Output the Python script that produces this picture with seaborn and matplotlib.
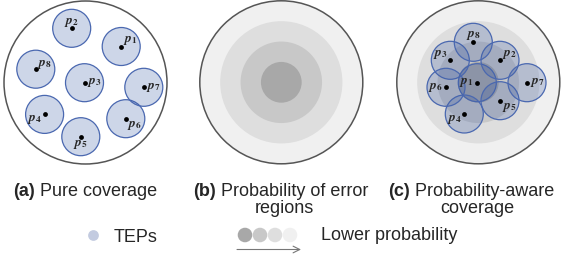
import matplotlib
matplotlib.use("Agg")
import matplotlib.pyplot as plt
from matplotlib.patches import Circle
import seaborn as sns
import pandas as pd

sns.set_theme(style="white")
plt.rcParams['font.family'] = ['Liberation Sans', 'DejaVu Sans']
plt.rcParams['mathtext.fontset'] = 'stix'

# ---- data ----
tep_names = ["1", "2", "3", "4", "5", "6", "7", "8"]
# TEP positions relative to the error-region centre (panel a: pure coverage)
pure_dx = [35.7, -13.8, -1.0, -40.9, -4.7, 40.3, 58.3, -49.7]
pure_dy = [-36.0, -54.2, 0.2, 31.9, 54.2, 36.2, 4.8, -13.3]
# panel c: probability-aware coverage
aware_dx = [-1.0, 21.7, -28.0, -14.0, 21.7, -32.3, 48.7, -5.0]
aware_dy = [0.4, -22.0, -22.0, 31.7, 18.4, 5.0, 0.4, -40.0]
# label offsets relative to the TEP point
pure_lab_dx = [9, 0, 10, -10, 0, 9, 10, 9]
pure_lab_dy = [-6, -6, 0, 5, 8, 7, 0, -5]
aware_lab_dx = [-11, 9, -10, -10, 9, -11, 10, 0]
aware_lab_dy = [0, -6, -6, 5, 7, 0, 0, -7]
ring_levels = [4, 3, 2, 1]          # outer -> inner
ring_colors = ["#f0f0f0", "#dedede", "#c8c8c8", "#a8a8a8"]
captions_bold = ["(a)", "(b)", "(c)"]
captions_line1 = [" Pure coverage", " Probability of error", " Probability-aware"]
captions_line2 = ["", "regions", "coverage"]
legend_tep = "TEPs"
legend_prob = "Lower probability"

# ---- layout ----
W, H = 563, 256
centers = [(85.5, 82.5), (281.3, 82.3), (478.3, 82.3)]
R_big = 81.5
R_tep = 19.0
tep_face = (0.23, 0.36, 0.65, 0.25)
tep_edge = "#4a68b0"

fig = plt.figure(figsize=(W / 100, H / 100), dpi=100)
ax = fig.add_axes([0, 0, 1, 1])
ax.set_xlim(0, W)
ax.set_ylim(H, 0)
ax.axis("off")


def draw_rings(cx, cy):
    for lvl, col in zip(ring_levels, ring_colors):
        ax.add_patch(Circle((cx, cy), R_big * lvl / 4.0, facecolor=col,
                            edgecolor="none", zorder=1))


def draw_teps(cx, cy, dxs, dys, ldx, ldy):
    xs = [cx + d for d in dxs]
    ys = [cy + d for d in dys]
    for x, y in zip(xs, ys):
        ax.add_patch(Circle((x, y), R_tep, facecolor=tep_face,
                            edgecolor=tep_edge, lw=0.9, zorder=3))
    df = pd.DataFrame({"x": xs, "y": ys})
    sns.scatterplot(data=df, x="x", y="y", ax=ax, color="black", s=12,
                    linewidth=0, zorder=5, legend=False)
    for name, x, y, lx, ly in zip(tep_names, xs, ys, ldx, ldy):
        ax.text(x + lx, y + ly, r"$\mathbfit{p}_{\mathbf{" + name + "}}$",
                ha="center", va="center", fontsize=9.5, zorder=6)


# panel a
cx, cy = centers[0]
ax.add_patch(Circle((cx, cy), R_big, facecolor="white", edgecolor="#555555",
                    lw=1.1, zorder=2))
draw_teps(cx, cy, pure_dx, pure_dy, pure_lab_dx, pure_lab_dy)

# panel b
cx, cy = centers[1]
draw_rings(cx, cy)
ax.add_patch(Circle((cx, cy), R_big, facecolor="none", edgecolor="#555555",
                    lw=1.1, zorder=2))

# panel c
cx, cy = centers[2]
draw_rings(cx, cy)
ax.add_patch(Circle((cx, cy), R_big, facecolor="none", edgecolor="#555555",
                    lw=1.1, zorder=2))
draw_teps(cx, cy, aware_dx, aware_dy, aware_lab_dx, aware_lab_dy)

# captions (line 1 centred under each panel, shifted to stay inside figure)
fs = 13
fig.canvas.draw()
renderer = fig.canvas.get_renderer()
line1_centre = [85.5, 281.0, 471.0]
line2_centre = [0, 284.0, 477.0]
for i in range(3):
    t1 = ax.text(0, 196, captions_bold[i], fontweight="bold",
                 fontsize=fs, ha="left", va="baseline")
    t2 = ax.annotate(captions_line1[i], xy=(1, 0), xycoords=t1, ha="left",
                     va="bottom", fontsize=fs)
    w1 = t1.get_window_extent(renderer).width
    w2 = t2.get_window_extent(renderer).width
    t1.set_x(line1_centre[i] - (w1 + w2) / 2.0)
    if captions_line2[i]:
        ax.text(line2_centre[i], 213, captions_line2[i], fontsize=fs,
                ha="center", va="baseline")

# legend
leg_df = pd.DataFrame({"x": [92.5], "y": [235]})
sns.scatterplot(data=leg_df, x="x", y="y", ax=ax, color="#c3cbe0", s=60,
                linewidth=0, legend=False, zorder=5)
ax.text(114, 242, legend_tep, fontsize=fs, ha="left", va="baseline")

grey_df = pd.DataFrame({"x": [245, 260, 275, 290], "y": [235] * 4,
                        "c": ring_colors[::-1]})
ax.scatter(grey_df["x"], grey_df["y"], c=grey_df["c"], s=110, linewidths=0,
           zorder=5)
ax.text(321, 240, legend_prob, fontsize=fs, ha="left", va="baseline")
ax.annotate("", xy=(301, 249.5), xytext=(237, 249.5),
            arrowprops=dict(arrowstyle="->", color="#777777", lw=0.8,
                            shrinkA=0, shrinkB=0))

fig.savefig("out.png", dpi=100)
